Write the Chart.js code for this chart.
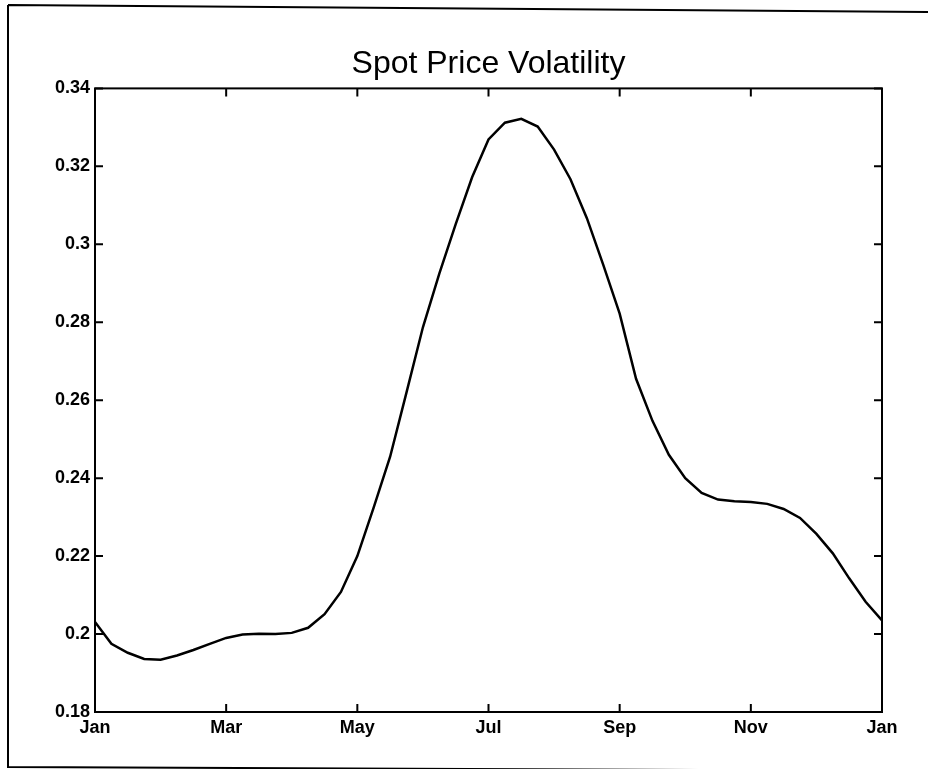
<!DOCTYPE html>
<html>
<head>
<meta charset="utf-8">
<title>Spot Price Volatility</title>
<script src="https://cdn.jsdelivr.net/npm/chart.js@4.4.1/dist/chart.umd.min.js"></script>
<style>
  html, body { margin: 0; padding: 0; background: #fff; }
  canvas { display: block; }
</style>
</head>
<body>
<canvas id="vol-chart" width="928" height="769"></canvas>
<script>
// position along the year in months (0 = Jan, 12 = next Jan), quarter-month steps
const monthPos = [
    0, 0.25, 0.5, 0.75, 1, 1.25, 1.5, 1.75, 2, 2.25, 2.5, 2.75,
    3, 3.25, 3.5, 3.75, 4, 4.25, 4.5, 4.75, 5, 5.25, 5.5, 5.75,
    6, 6.25, 6.5, 6.75, 7, 7.25, 7.5, 7.75, 8, 8.25, 8.5, 8.75,
    9, 9.25, 9.5, 9.75, 10, 10.25, 10.5, 10.75, 11, 11.25, 11.5, 11.75,
    12
];

// volatility
const volatility = [
    0.2031, 0.1975, 0.1952, 0.1936, 0.1934, 0.1945, 0.1959, 0.1975, 0.1990, 0.1999, 0.2001, 0.2000,
    0.2003, 0.2016, 0.2051, 0.2108, 0.2200, 0.2325, 0.2455, 0.2620, 0.2787, 0.2925, 0.3052, 0.3172,
    0.3269, 0.3312, 0.3322, 0.3302, 0.3243, 0.3167, 0.3067, 0.2947, 0.2822, 0.2655, 0.2547, 0.2460,
    0.2400, 0.2362, 0.2345, 0.2341, 0.2339, 0.2334, 0.2321, 0.2298, 0.2257, 0.2207, 0.2143, 0.2083,
    0.2035
];

const monthLabels = ['Jan', 'Mar', 'May', 'Jul', 'Sep', 'Nov', 'Jan'];

const FONT = "'Liberation Sans', Arial, Helvetica, sans-serif";

// box around the plot with inward ticks, plus the outer page frame
const boxPlugin = {
    id: 'boxFrame',
    afterDraw(chart) {
        const ctx = chart.ctx;
        const a = chart.chartArea;
        const xs = chart.scales.x;
        const ys = chart.scales.y;
        const len = 8;
        ctx.save();
        ctx.strokeStyle = '#000';
        ctx.lineWidth = 2;
        ctx.strokeRect(a.left, a.top, a.right - a.left, a.bottom - a.top);

        ctx.beginPath();
        xs.ticks.forEach(t => {
            const px = xs.getPixelForValue(t.value);
            ctx.moveTo(px, a.bottom);
            ctx.lineTo(px, a.bottom - len);
            ctx.moveTo(px, a.top);
            ctx.lineTo(px, a.top + len);
        });
        ys.ticks.forEach(t => {
            const py = ys.getPixelForValue(t.value);
            ctx.moveTo(a.left, py);
            ctx.lineTo(a.left + len, py);
            ctx.moveTo(a.right, py);
            ctx.lineTo(a.right - len, py);
        });
        ctx.stroke();

        // outer frame of the scanned page
        ctx.beginPath();
        ctx.moveTo(8, 5);
        ctx.lineTo(928, 12);
        ctx.moveTo(8, 5);
        ctx.lineTo(8, 767);
        ctx.lineTo(928, 771);
        ctx.stroke();
        ctx.restore();
    }
};

const ctx = document.getElementById('vol-chart').getContext('2d');
new Chart(ctx, {
    type: 'line',
    data: {
        datasets: [{
            label: 'Spot Price Volatility',
            data: monthPos.map((m, i) => ({ x: m, y: volatility[i] })),
            borderColor: '#000',
            borderWidth: 2.5,
            pointRadius: 0,
            tension: 0,
            fill: false
        }]
    },
    plugins: [boxPlugin],
    options: {
        responsive: false,
        animation: false,
        events: [],
        layout: { padding: { left: 0, right: 46, top: 0, bottom: 0 } },
        plugins: {
            legend: { display: false },
            tooltip: { enabled: false },
            title: {
                display: true,
                fullSize: false,
                text: 'Spot Price Volatility',
                color: '#000',
                font: { family: FONT, size: 32, weight: 'normal' },
                padding: { top: 45, bottom: 5 }
            }
        },
        scales: {
            x: {
                type: 'linear',
                min: 0,
                max: 12,
                grid: { display: false, drawTicks: false },
                border: { display: false },
                ticks: {
                    stepSize: 2,
                    autoSkip: false,
                    maxRotation: 0,
                    padding: 5,
                    color: '#000',
                    font: { family: FONT, size: 18, weight: 'bold' },
                    callback: v => monthLabels[Math.round(v / 2)]
                },
                afterFit(scale) {
                    scale.height = 57;
                    scale.paddingLeft = 0;
                    scale.paddingRight = 0;
                }
            },
            y: {
                min: 0.18,
                max: 0.34,
                grid: { display: false, drawTicks: false },
                border: { display: false },
                ticks: {
                    stepSize: 0.02,
                    padding: 5,
                    color: '#000',
                    font: { family: FONT, size: 18, weight: 'bold' },
                    callback: v => String(Math.round(v * 100) / 100)
                },
                afterFit(scale) {
                    scale.width = 95;
                    scale.paddingTop = 0;
                    scale.paddingBottom = 0;
                }
            }
        }
    }
});
</script>
</body>
</html>
